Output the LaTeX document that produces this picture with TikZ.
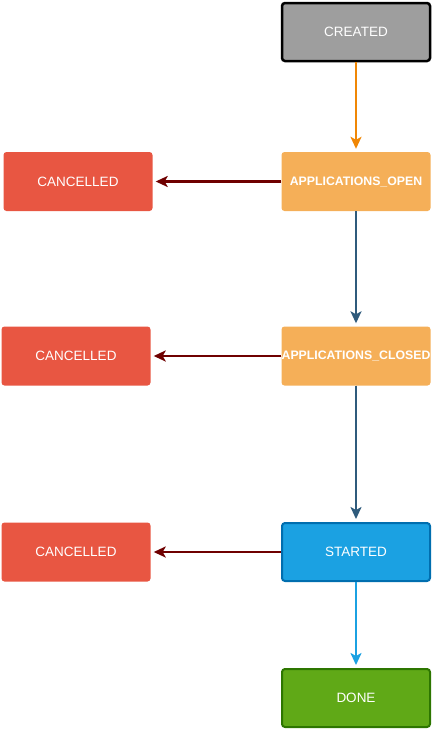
\documentclass[tikz,border=0pt]{standalone}
\usepackage{fontspec}
\setmainfont{Liberation Sans}
\usetikzlibrary{arrows.meta}
\definecolor{cgray}{HTML}{9E9E9E}
\definecolor{corange}{HTML}{F5AF58}
\definecolor{cred}{HTML}{E85642}
\definecolor{cblue}{HTML}{1BA1E2}
\definecolor{cblueb}{HTML}{006EAF}
\definecolor{cgreen}{HTML}{60A917}
\definecolor{cgreenb}{HTML}{2D7600}
\definecolor{aorange}{HTML}{F08705}
\definecolor{anavy}{HTML}{2F5B7C}
\definecolor{adred}{HTML}{6F0000}
\tikzset{
  state/.style={rectangle, rounded corners=3pt, minimum width=149pt, minimum height=59pt, inner sep=0pt, text=white, font=\fontsize{13.5}{16}\selectfont},
  boldstate/.style={state, font=\fontsize{12.3}{15}\selectfont\bfseries},
  conn/.style={line width=2.2pt, -{Stealth[length=12pt,width=11pt,inset=3pt]}, shorten >=3pt},
}
\begin{document}
\begin{tikzpicture}[x=1pt,y=-1pt]
\useasboundingbox (0,0) rectangle (433,729);
\node[state, fill=cgray, draw=black, line width=2.5pt, minimum width=148pt, minimum height=58pt] (created) at (356,32) {CREATED};
\node[boldstate, fill=corange] (open) at (356,181.5) {APPLICATIONS\_OPEN};
\node[boldstate, fill=corange] (closed) at (356,356) {APPLICATIONS\_CLOSED};
\node[state, fill=cblue, draw=cblueb, line width=2pt, minimum width=148pt, minimum height=58pt] (started) at (356,552) {STARTED};
\node[state, fill=cgreen, draw=cgreenb, line width=2pt, minimum width=148pt, minimum height=58pt] (done) at (356,698) {DONE};
\node[state, fill=cred] (c1) at (78,181.5) {CANCELLED};
\node[state, fill=cred] (c2) at (76,356) {CANCELLED};
\node[state, fill=cred] (c3) at (76,552) {CANCELLED};
\draw[conn, draw=aorange, fill=aorange] (created) -- (open);
\draw[conn, draw=anavy, fill=anavy] (open) -- (closed);
\draw[conn, draw=anavy, fill=anavy] (closed) -- (started);
\draw[conn, draw=cblue, fill=cblue] (started) -- (done);
\draw[conn, draw=adred, fill=adred] (open) -- (c1);
\draw[conn, draw=adred, fill=adred] (closed) -- (c2);
\draw[conn, draw=adred, fill=adred] (started) -- (c3);
\end{tikzpicture}
\end{document}
